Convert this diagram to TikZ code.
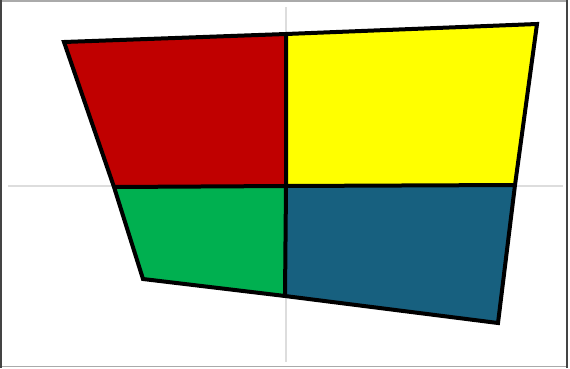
\documentclass[tikz,border=0pt]{standalone}
\usetikzlibrary{calc}
\definecolor{quadred}{HTML}{C00000}
\definecolor{quadyellow}{HTML}{FFFF00}
\definecolor{quadgreen}{HTML}{00B050}
\definecolor{quadblue}{HTML}{17607F}
\definecolor{axisgray}{HTML}{DDDDDD}
\definecolor{framedark}{HTML}{444444}
\definecolor{framelight}{HTML}{AAAAAA}
\tikzset{
  axisline/.style={draw=axisgray,line width=1.5pt},
  frameside/.style={draw=framedark,line width=1.6pt},
  frameedge/.style={draw=framelight,line width=1.4pt},
  cell/.style={draw=black,line width=3pt,line join=miter},
  outline/.style={draw=black,line width=3pt,line join=miter}
}
\begin{document}
\begin{tikzpicture}[x=0.75pt,y=-0.75pt]
\path[use as bounding box,fill=white] (0,0) rectangle (570,368);
% frame
\draw[frameedge] (0,1)--(567,1);
\draw[frameedge] (0,366.5)--(567,366.5);
\draw[frameside] (1,0)--(1,368);
\draw[frameside] (567,0)--(567,368);
% axes
\coordinate (ytop) at (286,7); \coordinate (ybot) at (286,362);
\coordinate (xleft) at (8,186); \coordinate (xright) at (563,186);
\draw[axisline] (ytop)--(ybot);
\draw[axisline] (xleft)--(xright);
% corners
\coordinate (tl) at (64,42); \coordinate (tm) at (286,34); \coordinate (tr) at (537,24);
\coordinate (ml) at (114,187); \coordinate (mc) at (286,186); \coordinate (mr) at (515,185);
\coordinate (bl) at (143,279); \coordinate (bm) at (285,296); \coordinate (br) at (498,323);
\fill[quadred] (tl)--(tm)--(mc)--(ml)--cycle;
\fill[quadyellow] (tm)--(tr)--(mr)--(mc)--cycle;
\fill[quadgreen] (ml)--(mc)--(bm)--(bl)--cycle;
\fill[quadblue] (mc)--(mr)--(br)--(bm)--cycle;
\draw[cell] (tm)--(mc)--(bm);
\draw[cell] (ml)--(mc)--(mr);
\draw[outline] (tl)--(tm)--(tr)--(mr)--(br)--(bm)--(bl)--(ml)--cycle;
\end{tikzpicture}
\end{document}
